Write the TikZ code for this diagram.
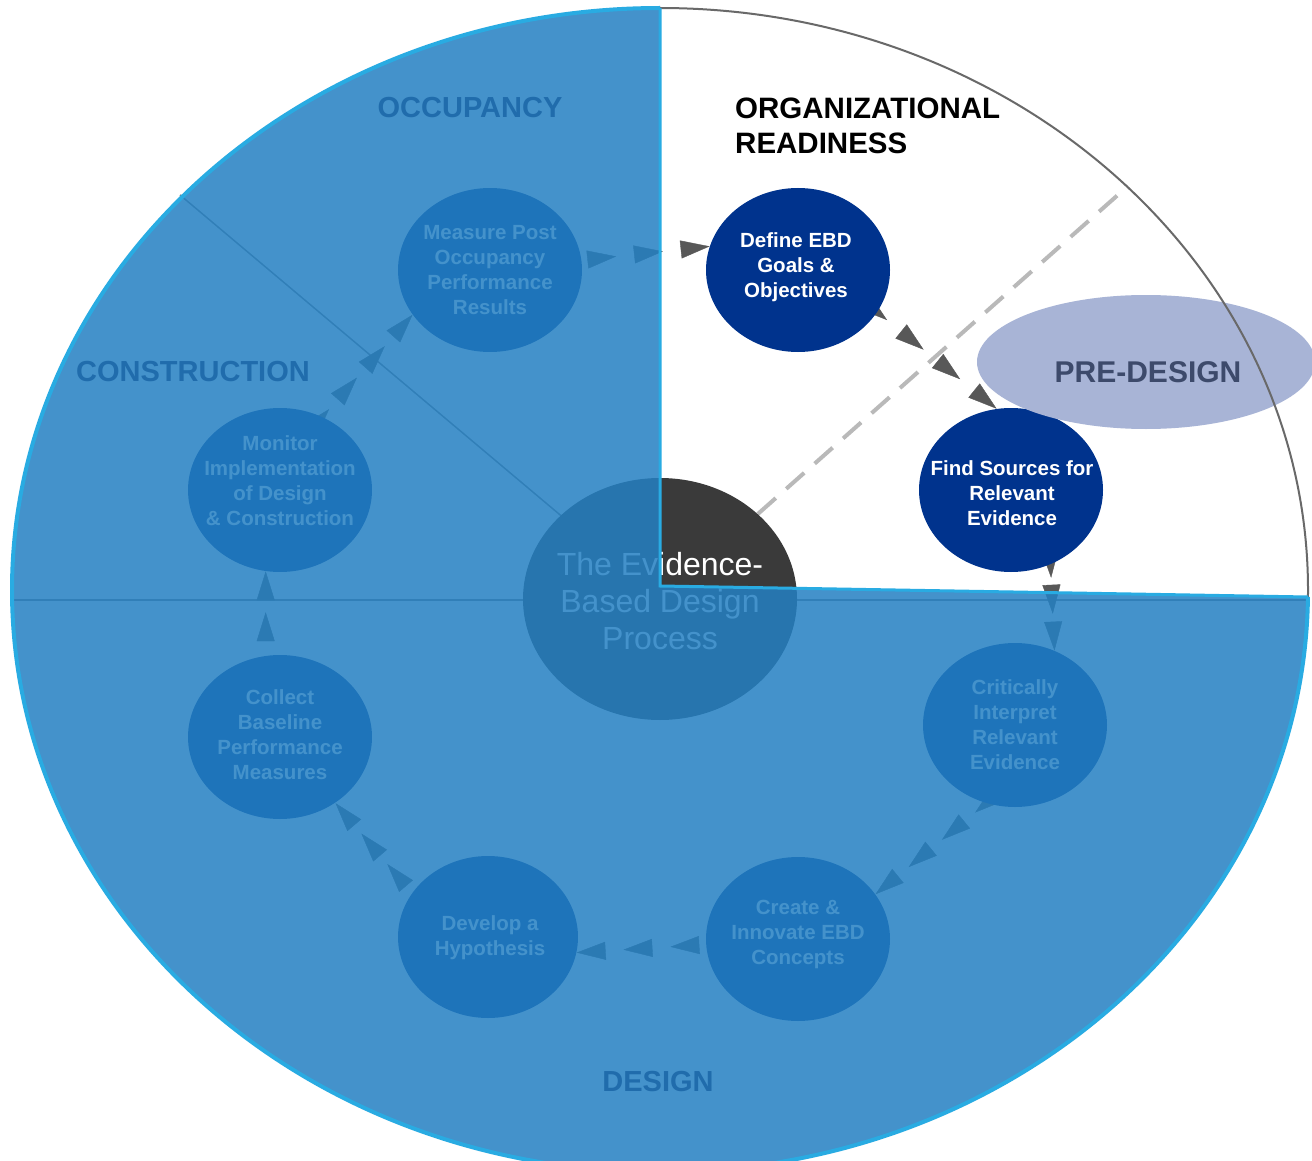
\documentclass[tikz,border=0pt]{standalone}
\usepackage{fontspec}
\setmainfont{Liberation Sans}
\usetikzlibrary{shapes.geometric,arrows.meta,decorations.markings}
\definecolor{navy}{RGB}{0,51,141}
\definecolor{ovblue}{RGB}{36,128,195}
\definecolor{cyanedge}{RGB}{41,171,226}
\definecolor{arrowgray}{RGB}{88,88,88}
\definecolor{dashgray}{RGB}{185,185,185}
\definecolor{coregray}{RGB}{58,58,58}
\definecolor{rimgray}{RGB}{105,105,105}
\definecolor{lavender}{RGB}{168,180,214}
\definecolor{predesigntext}{RGB}{61,74,107}
\definecolor{phaseblue}{RGB}{32,108,172}
\definecolor{divgray}{RGB}{125,125,125}
\newcommand{\mytri}{\arrow{Triangle[length=29pt,width=18pt]}}
\pgfdeclarelayer{bg}
\pgfsetlayers{bg,main}
\begin{document}
\begin{tikzpicture}[x=1pt,y=-1pt,
  stepnode/.style={ellipse, fill=navy, minimum width=184pt, minimum height=164pt, inner sep=0pt},
  steptext/.style={text=white, font=\bfseries\fontsize{20.5}{25}\selectfont, align=center, inner sep=0pt},
  phase/.style={text=phaseblue, font=\bfseries\fontsize{29}{34}\selectfont, inner sep=0pt},
  tris/.style={color=arrowgray, postaction={decorate}},
]
\useasboundingbox (0,0) rectangle (1312,1161);
\clip (0,0) rectangle (1312,1161);

% ---------- step nodes ----------
\node[stepnode] (measure) at (490,270) {};
\node[stepnode] (define) at (798,270) {};
\node[stepnode] (find) at (1011,490) {};
\node[stepnode] (critically) at (1015,725) {};
\node[stepnode] (create) at (798,939) {};
\node[stepnode, minimum width=180pt, minimum height=162pt] (develop) at (488,937) {};
\node[stepnode] (collect) at (280,737) {};
\node[stepnode] (monitor) at (280,490) {};

\node[steptext] (measuretxt) at (490,270) {Measure Post\\Occupancy\\Performance\\Results};
\node[steptext] (definetxt) at (796,267) {Define EBD\\Goals \&\\Objectives};
\node[steptext] (findtxt) at (1012,493) {Find Sources for\\Relevant\\Evidence};
\node[steptext] (criticallytxt) at (1015,725) {Critically\\Interpret\\Relevant\\Evidence};
\node[steptext] (createtxt) at (798,934) {Create \&\\Innovate EBD\\Concepts};
\node[steptext] (developtxt) at (490,938) {Develop a\\Hypothesis};
\node[steptext] (collecttxt) at (280,735) {Collect\\Baseline\\Performance\\Measures};
\node[steptext] (monitortxt) at (280,481) {Monitor\\Implementation\\of Design\\\& Construction};

% ---------- centre ----------
\node[ellipse, fill=coregray, minimum width=274pt, minimum height=242pt, inner sep=0pt] (core) at (660,599) {};
\node[text=white, font=\fontsize{32}{37}\selectfont, align=center, inner sep=0pt] (coretxt) at (660,601) {The Evidence-\\Based Design\\Process};

% ---------- background layer ----------
\begin{pgfonlayer}{bg}
\fill[white] (0,0) rectangle (1312,1161);
\coordinate (rimA) at (180,195);
\coordinate (rimL) at (12,600);
\coordinate (rimR) at (1308,600);
\coordinate (dashend) at (1128,186);
\draw[divgray, line width=1.5pt] (rimL) -- (rimR);
\draw[divgray, line width=1.5pt] (core.center) -- (rimA);
\draw[dashgray, line width=4pt, dash pattern=on 24pt off 14pt] (core.41) -- (dashend);

\path[tris, decoration={markings,
  mark=at position -141pt with {\mytri}, mark=at position -94pt with {\mytri},
  mark=at position -47pt with {\mytri}, mark=at position -0.1pt with {\mytri}}]
  (measure.center) -- (define.165);
\path[tris, decoration={markings,
  mark=at position -141pt with {\mytri}, mark=at position -94pt with {\mytri},
  mark=at position -47pt with {\mytri}, mark=at position -0.1pt with {\mytri}}]
  (define.-28) -- (find.100);
\path[tris, decoration={markings,
  mark=at position -73pt with {\mytri},
  mark=at position -37pt with {\mytri}, mark=at position -0.1pt with {\mytri}}]
  (find.-62) -- (critically.62);
\path[tris, decoration={markings,
  mark=at position -129pt with {\mytri}, mark=at position -86pt with {\mytri},
  mark=at position -43pt with {\mytri}, mark=at position -0.1pt with {\mytri}}]
  (critically.-110) -- (create.30);
\path[tris, decoration={markings,
  mark=at position -141pt with {\mytri}, mark=at position -94pt with {\mytri},
  mark=at position -47pt with {\mytri}, mark=at position -0.1pt with {\mytri}}]
  (create.center) -- (develop.-10);
\path[tris, decoration={markings,
  mark=at position -80pt with {\mytri},
  mark=at position -40pt with {\mytri}, mark=at position -0.1pt with {\mytri}}]
  (develop.150) -- (collect.-50);
\path[tris, decoration={markings,
  mark=at position -41pt with {\mytri}, mark=at position -0.1pt with {\mytri}}]
  (collect.100) -- (monitor.-100);
\path[tris, decoration={markings,
  mark=at position -126pt with {\mytri}, mark=at position -84pt with {\mytri},
  mark=at position -42pt with {\mytri}, mark=at position -0.1pt with {\mytri}}]
  (monitor.60) -- (measure.-150);
\end{pgfonlayer}

% ---------- pre-design ----------
\node[ellipse, fill=lavender, minimum width=338pt, minimum height=134pt, inner sep=0pt] (predesign) at (1146,362) {};
\node[text=predesigntext, font=\bfseries\fontsize{30}{36}\selectfont, inner sep=0pt] (predesigntxt) at (1148,372) {PRE-DESIGN};

% ---------- rim ----------
\draw[rimgray, line width=2pt] (660,590) ellipse [x radius=648pt, y radius=582pt];

% ---------- overlay on three quadrants ----------
\begin{scope}
\clip (660,590) ellipse [x radius=648pt, y radius=582pt];
\fill[ovblue, opacity=0.85] (660,586) -- (660,-20) -- (-20,-20) -- (-20,1200) -- (1340,1200) -- (1340,597.5) -- cycle;
\end{scope}
\begin{scope}
\clip (660,586) -- (660,-20) -- (-20,-20) -- (-20,1200) -- (1340,1200) -- (1340,597.5) -- cycle;
\draw[cyanedge, line width=4pt] (660,590) ellipse [x radius=648pt, y radius=582pt];
\end{scope}
\draw[cyanedge, line width=3pt] (660,8) -- (660,586) -- (1308,597);

% ---------- phase labels ----------
\node[phase] (occ) at (470,108) {OCCUPANCY};
\node[phase] (constr) at (193,372) {CONSTRUCTION};
\node[phase] (des) at (658,1082) {DESIGN};
\node[font=\bfseries\fontsize{29.5}{35}\selectfont, align=left, anchor=west, inner sep=0pt] (orgready) at (735,126) {ORGANIZATIONAL\\READINESS};
\end{tikzpicture}
\end{document}
